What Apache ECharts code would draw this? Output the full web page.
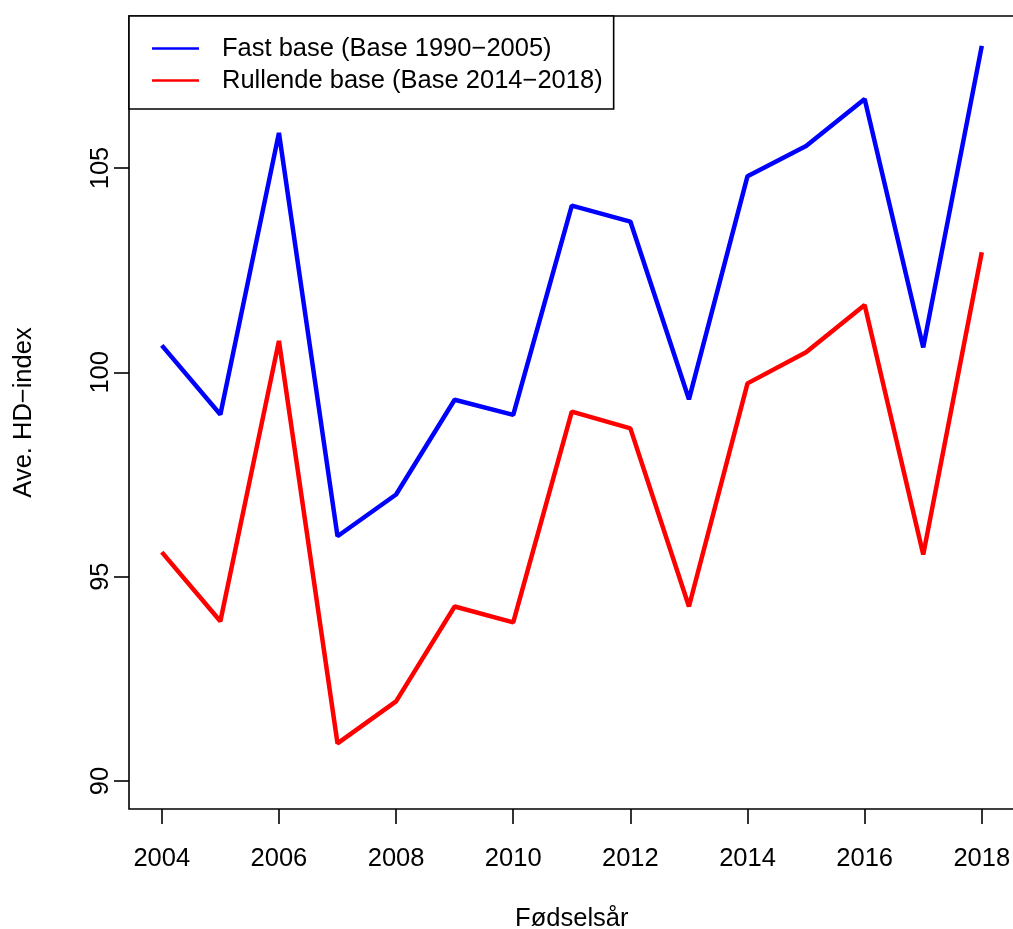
<!DOCTYPE html>
<html>
<head>
<meta charset="utf-8">
<script src="https://cdn.jsdelivr.net/npm/echarts@6/dist/echarts.min.js"></script>
<style>html,body{margin:0;padding:0;background:#fff;}#c{width:1013px;height:929px;}</style>
</head>
<body>
<div id="c"></div>
<script>
const years = [2004, 2005, 2006, 2007, 2008, 2009, 2010, 2011, 2012, 2013, 2014, 2015, 2016, 2017, 2018];
const fastBase = [100.66, 98.97, 105.86, 95.99, 97.01, 99.33, 98.96, 104.08, 103.69, 99.34, 104.80, 105.54, 106.69, 100.61, 107.99];
const rullendeBase = [95.60, 93.91, 100.77, 90.92, 91.95, 94.27, 93.88, 99.04, 98.63, 94.27, 99.73, 100.49, 101.65, 95.54, 102.94];
const xTicks = [2004, 2006, 2008, 2010, 2012, 2014, 2016, 2018];
const yTicks = [90, 95, 100, 105];
const seriesNames = ['Fast base (Base 1990\u22122005)', 'Rullende base (Base 2014\u22122018)'];

const font = '"Liberation Sans", Arial, sans-serif';
const fs = 25.5;
const chart = echarts.init(document.getElementById('c'), null, {renderer: 'canvas'});
chart.setOption({
  animation: false,
  backgroundColor: '#fff',
  textStyle: {fontFamily: font, color: '#000'},
  grid: {left: 129, top: 16, width: 885.6, height: 793, containLabel: false, outerBoundsMode: 'none',
    show: true, borderColor: '#000', borderWidth: 1.6, backgroundColor: 'transparent'},
  legend: {
    orient: 'vertical', left: 129, top: 16,
    data: seriesNames,
    icon: 'rect', itemWidth: 47, itemHeight: 2.5, itemGap: 0,
    padding: [16.5, 11, 12.5, 23],
    borderColor: '#000', borderWidth: 1.6, backgroundColor: '#fff',
    textStyle: {fontFamily: font, fontSize: fs, color: '#000', lineHeight: 32, padding: [0, 0, 0, 18]},
    itemStyle: {borderWidth: 0}
  },
  xAxis: {
    type: 'value', min: 2003.44, max: 2018.56,
    name: 'Fødselsår', nameLocation: 'middle', nameGap: 97,
    nameTextStyle: {fontFamily: font, fontSize: fs, color: '#000'},
    axisLine: {show: false},
    axisTick: {show: true, inside: false, length: 15, customValues: xTicks, lineStyle: {color: '#000', width: 1.6}},
    axisLabel: {customValues: xTicks, margin: 37, fontFamily: font, fontSize: fs, color: '#000', formatter: v => String(v)},
    splitLine: {show: false}
  },
  yAxis: {
    type: 'value', min: 89.315, max: 108.72,
    name: 'Ave. HD\u2212index', nameLocation: 'middle', nameGap: 92,
    nameTextStyle: {fontFamily: font, fontSize: fs, color: '#000'},
    axisLine: {show: false},
    axisTick: {show: true, inside: false, length: 15, customValues: yTicks, lineStyle: {color: '#000', width: 1.6}},
    axisLabel: {customValues: yTicks, rotate: 90, margin: 15, fontFamily: font, fontSize: fs, color: '#000', formatter: v => String(v)},
    splitLine: {show: false}
  },
  series: [
    {name: seriesNames[0], type: 'line', data: years.map((y, i) => [y, fastBase[i]]),
     showSymbol: false, symbol: 'none', color: '#0000FF', lineStyle: {color: '#0000FF', width: 4.5}, z: 2},
    {name: seriesNames[1], type: 'line', data: years.map((y, i) => [y, rullendeBase[i]]),
     showSymbol: false, symbol: 'none', color: '#FF0000', lineStyle: {color: '#FF0000', width: 4.5}, z: 2}
  ]
});
</script>
</body>
</html>
